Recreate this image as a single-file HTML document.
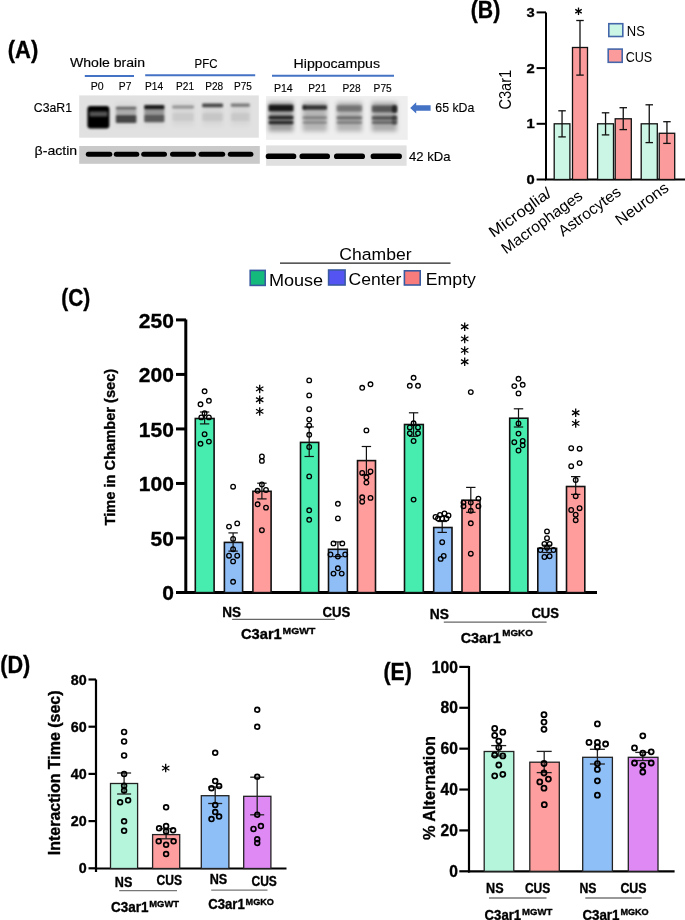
<!DOCTYPE html>
<html><head><meta charset="utf-8"><style>
html,body{margin:0;padding:0;background:#fff;}
svg{display:block;will-change:transform;font-family:"Liberation Sans", sans-serif;}
</style></head><body>
<svg width="685" height="920" viewBox="0 0 685 920">
<rect width="685" height="920" fill="#fff"/>
<text x="7.8" y="57.6" font-size="23.6" font-weight="bold" textLength="30.5" lengthAdjust="spacingAndGlyphs" fill="#000" stroke="#000" stroke-width="0.35">(A)</text>
<text x="70" y="66.8" font-size="12" textLength="75" lengthAdjust="spacingAndGlyphs" fill="#000" stroke="#000" stroke-width="0.15">Whole brain</text>
<text x="194.5" y="68" font-size="13" textLength="22.9" lengthAdjust="spacingAndGlyphs" fill="#000" stroke="#000" stroke-width="0.15">PFC</text>
<text x="293.6" y="68.0" font-size="12" textLength="86.4" lengthAdjust="spacingAndGlyphs" fill="#000" stroke="#000" stroke-width="0.15">Hippocampus</text>
<line x1="84.8" y1="76" x2="134" y2="76" stroke="#4472C4" stroke-width="2"/>
<line x1="145.2" y1="75.2" x2="255.2" y2="75.2" stroke="#4472C4" stroke-width="2"/>
<line x1="272" y1="75.8" x2="394" y2="75.8" stroke="#4472C4" stroke-width="2"/>
<text x="90.8" y="89.6" font-size="11.2" textLength="12.9" lengthAdjust="spacingAndGlyphs" fill="#000" stroke="#000" stroke-width="0.15">P0</text>
<text x="118.8" y="89.6" font-size="11.2" textLength="12.6" lengthAdjust="spacingAndGlyphs" fill="#000" stroke="#000" stroke-width="0.15">P7</text>
<text x="145.0" y="89.6" font-size="11.2" textLength="18.1" lengthAdjust="spacingAndGlyphs" fill="#000" stroke="#000" stroke-width="0.15">P14</text>
<text x="176.1" y="89.6" font-size="11.2" textLength="17.9" lengthAdjust="spacingAndGlyphs" fill="#000" stroke="#000" stroke-width="0.15">P21</text>
<text x="205.2" y="89.6" font-size="11.2" textLength="18.0" lengthAdjust="spacingAndGlyphs" fill="#000" stroke="#000" stroke-width="0.15">P28</text>
<text x="234.0" y="89.6" font-size="11.2" textLength="17.9" lengthAdjust="spacingAndGlyphs" fill="#000" stroke="#000" stroke-width="0.15">P75</text>
<text x="273.9" y="91.8" font-size="11.2" textLength="18.8" lengthAdjust="spacingAndGlyphs" fill="#000" stroke="#000" stroke-width="0.15">P14</text>
<text x="308.3" y="91.8" font-size="11.2" textLength="18.1" lengthAdjust="spacingAndGlyphs" fill="#000" stroke="#000" stroke-width="0.15">P21</text>
<text x="342.5" y="91.8" font-size="11.2" textLength="18.1" lengthAdjust="spacingAndGlyphs" fill="#000" stroke="#000" stroke-width="0.15">P28</text>
<text x="373.59999999999997" y="91.8" font-size="11.2" textLength="18.1" lengthAdjust="spacingAndGlyphs" fill="#000" stroke="#000" stroke-width="0.15">P75</text>
<text x="33.8" y="112.4" font-size="13" textLength="38.2" lengthAdjust="spacingAndGlyphs" fill="#000" stroke="#000" stroke-width="0.15">C3aR1</text>
<text x="34.6" y="155.4" font-size="13" textLength="42.6" lengthAdjust="spacingAndGlyphs" fill="#000" stroke="#000" stroke-width="0.15">&#946;-actin</text>
<text x="435.3" y="112" font-size="13.6" textLength="39" lengthAdjust="spacingAndGlyphs" fill="#000" stroke="#000" stroke-width="0.15">65 kDa</text>
<text x="409" y="161" font-size="13.6" textLength="41.5" lengthAdjust="spacingAndGlyphs" fill="#000" stroke="#000" stroke-width="0.15">42 kDa</text>
<path d="M410.2 107.9 L416.2 102.3 L416.2 105.2 L430.6 105.2 L430.6 110.8 L416.2 110.8 L416.2 113.4 Z" fill="#4472C4"/>
<defs><filter id="b1" x="-30%" y="-100%" width="160%" height="300%"><feGaussianBlur stdDeviation="1.2"/></filter><filter id="b2" x="-30%" y="-100%" width="160%" height="300%"><feGaussianBlur stdDeviation="0.8"/></filter><filter id="b3" x="-30%" y="-50%" width="160%" height="200%"><feGaussianBlur stdDeviation="2"/></filter></defs>
<rect x="79.2" y="95.4" width="179.6" height="42.3" fill="#e1e1e1"/>
<rect x="79.2" y="146" width="180.6" height="17.8" fill="#c9c9c9"/>
<rect x="266.1" y="96.1" width="141.6" height="43.7" fill="#eeeeee"/>
<rect x="266.1" y="145.4" width="140.5" height="20.4" fill="#e0e0e0"/>
<rect x="87.4" y="106" width="22.0" height="22.6" rx="3" fill="#000" fill-opacity="1.0" filter="url(#b1)"/>
<rect x="89.5" y="111.5" width="18.0" height="5.0" rx="1" fill="#fff" fill-opacity="0.33" filter="url(#b1)"/>
<rect x="115.8" y="103" width="20.6" height="23" rx="1" fill="#000" fill-opacity="0.045" filter="url(#b3)"/>
<rect x="115.8" y="106.8" width="20.6" height="2.6" rx="1" fill="#000" fill-opacity="0.55" filter="url(#b1)"/>
<rect x="115.8" y="109.4" width="20.6" height="5.6" rx="1" fill="#000" fill-opacity="0.2" filter="url(#b1)"/>
<rect x="115.8" y="115" width="20.6" height="8" rx="1" fill="#000" fill-opacity="0.68" filter="url(#b1)"/>
<rect x="144.2" y="103" width="20.2" height="23" rx="1" fill="#000" fill-opacity="0.045" filter="url(#b3)"/>
<rect x="144.2" y="105" width="20.2" height="4.4" rx="1" fill="#000" fill-opacity="0.88" filter="url(#b1)"/>
<rect x="144.2" y="109.4" width="20.2" height="5.0" rx="1" fill="#000" fill-opacity="0.3" filter="url(#b1)"/>
<rect x="144.2" y="114.4" width="20.2" height="7.8" rx="1" fill="#000" fill-opacity="0.58" filter="url(#b1)"/>
<rect x="172.2" y="103" width="21.8" height="23" rx="1" fill="#000" fill-opacity="0.045" filter="url(#b3)"/>
<rect x="172.2" y="105.6" width="21.8" height="2.8" rx="1" fill="#000" fill-opacity="0.32" filter="url(#b1)"/>
<rect x="172.2" y="113" width="21.8" height="8" rx="1" fill="#000" fill-opacity="0.06" filter="url(#b1)"/>
<rect x="202.2" y="103" width="20.8" height="23" rx="1" fill="#000" fill-opacity="0.045" filter="url(#b3)"/>
<rect x="202.2" y="103.4" width="20.8" height="3.8" rx="1" fill="#000" fill-opacity="0.68" filter="url(#b1)"/>
<rect x="202.2" y="113" width="20.8" height="8" rx="1" fill="#000" fill-opacity="0.08" filter="url(#b1)"/>
<rect x="230.8" y="103" width="19.0" height="23" rx="1" fill="#000" fill-opacity="0.045" filter="url(#b3)"/>
<rect x="230.8" y="103.6" width="19.0" height="3.2" rx="1" fill="#000" fill-opacity="0.45" filter="url(#b1)"/>
<rect x="230.8" y="113" width="19.0" height="8" rx="1" fill="#000" fill-opacity="0.07" filter="url(#b1)"/>
<rect x="268.6" y="102" width="24.8" height="29.5" rx="1" fill="#000" fill-opacity="0.33" filter="url(#b3)"/>
<rect x="268.6" y="104.8" width="24.8" height="6.5" rx="1" fill="#000" fill-opacity="0.85" filter="url(#b1)"/>
<rect x="268.6" y="115.8" width="24.8" height="3.8" rx="1" fill="#000" fill-opacity="0.78" filter="url(#b1)"/>
<rect x="268.6" y="120.8" width="24.8" height="3.4" rx="1" fill="#000" fill-opacity="0.76" filter="url(#b1)"/>
<rect x="302.6" y="102" width="24.4" height="29.5" rx="1" fill="#000" fill-opacity="0.24" filter="url(#b3)"/>
<rect x="302.6" y="105.2" width="24.4" height="4.6" rx="1" fill="#000" fill-opacity="0.72" filter="url(#b1)"/>
<rect x="302.6" y="116.2" width="24.4" height="3.0" rx="1" fill="#000" fill-opacity="0.3" filter="url(#b1)"/>
<rect x="302.6" y="121.3" width="24.4" height="2.5" rx="1" fill="#000" fill-opacity="0.28" filter="url(#b1)"/>
<rect x="336.6" y="102" width="25.5" height="29.5" rx="1" fill="#000" fill-opacity="0.24" filter="url(#b3)"/>
<rect x="336.6" y="105.2" width="25.5" height="6.4" rx="1" fill="#000" fill-opacity="0.36" filter="url(#b1)"/>
<rect x="336.6" y="116.2" width="25.5" height="3.4" rx="1" fill="#000" fill-opacity="0.42" filter="url(#b1)"/>
<rect x="336.6" y="121" width="25.5" height="3" rx="1" fill="#000" fill-opacity="0.3" filter="url(#b1)"/>
<rect x="371.8" y="102" width="25.0" height="29.5" rx="1" fill="#000" fill-opacity="0.28" filter="url(#b3)"/>
<rect x="371.8" y="105.6" width="25.0" height="6.6" rx="1" fill="#000" fill-opacity="0.5" filter="url(#b1)"/>
<rect x="371.8" y="116" width="25.0" height="4" rx="1" fill="#000" fill-opacity="0.5" filter="url(#b1)"/>
<rect x="371.8" y="121" width="25.0" height="3" rx="1" fill="#000" fill-opacity="0.42" filter="url(#b1)"/>
<rect x="392" y="105" width="5.2" height="8" rx="2.5" fill="#000" fill-opacity="0.6" filter="url(#b1)"/>
<rect x="392" y="115" width="5.2" height="10" rx="2.5" fill="#000" fill-opacity="0.35" filter="url(#b1)"/>
<rect x="302.6" y="104.5" width="3.4" height="5.5" rx="2.5" fill="#000" fill-opacity="0.3" filter="url(#b1)"/>
<defs><filter id="b4" x="-10%" y="-60%" width="120%" height="220%"><feGaussianBlur stdDeviation="0.55"/></filter></defs>
<rect x="85.8" y="151.7" width="26.5" height="5.1" rx="2.5" fill="#000" filter="url(#b4)"/>
<rect x="113.8" y="151.7" width="25.5" height="5.1" rx="2.5" fill="#000" filter="url(#b4)"/>
<rect x="141.2" y="151.7" width="25.8" height="5.1" rx="2.5" fill="#000" filter="url(#b4)"/>
<rect x="170" y="151.7" width="26.1" height="5.1" rx="2.5" fill="#000" filter="url(#b4)"/>
<rect x="198.5" y="151.7" width="26.7" height="5.1" rx="2.5" fill="#000" filter="url(#b4)"/>
<rect x="227.8" y="151.7" width="25.6" height="5.1" rx="2.5" fill="#000" filter="url(#b4)"/>
<rect x="265.7" y="153.6" width="30.6" height="5.5" rx="2.7" fill="#000" filter="url(#b4)"/>
<rect x="299.5" y="153.6" width="30.5" height="5.5" rx="2.7" fill="#000" filter="url(#b4)"/>
<rect x="334" y="153.6" width="31" height="5.5" rx="2.7" fill="#000" filter="url(#b4)"/>
<rect x="370.6" y="153.6" width="31.3" height="5.5" rx="2.7" fill="#000" filter="url(#b4)"/>
<text x="470.8" y="18.4" font-size="23.6" font-weight="bold" textLength="29.5" lengthAdjust="spacingAndGlyphs" fill="#000" stroke="#000" stroke-width="0.35">(B)</text>
<line x1="546" y1="12.4" x2="546" y2="180" stroke="#000" stroke-width="2"/>
<line x1="545" y1="179.5" x2="685" y2="179.5" stroke="#000" stroke-width="2"/>
<line x1="536.6" y1="179.5" x2="546" y2="179.5" stroke="#000" stroke-width="2"/>
<text x="526.6" y="184.1" font-size="12.6" font-weight="bold" textLength="8.2" lengthAdjust="spacingAndGlyphs" fill="#000" stroke="#000" stroke-width="0.35">0</text>
<line x1="536.6" y1="123.8" x2="546" y2="123.8" stroke="#000" stroke-width="2"/>
<text x="526.6" y="128.4" font-size="12.6" font-weight="bold" textLength="8.2" lengthAdjust="spacingAndGlyphs" fill="#000" stroke="#000" stroke-width="0.35">1</text>
<line x1="536.6" y1="68.1" x2="546" y2="68.1" stroke="#000" stroke-width="2"/>
<text x="526.6" y="72.7" font-size="12.6" font-weight="bold" textLength="8.2" lengthAdjust="spacingAndGlyphs" fill="#000" stroke="#000" stroke-width="0.35">2</text>
<line x1="536.6" y1="12.399999999999977" x2="546" y2="12.399999999999977" stroke="#000" stroke-width="2"/>
<text x="526.6" y="17.0" font-size="12.6" font-weight="bold" textLength="8.2" lengthAdjust="spacingAndGlyphs" fill="#000" stroke="#000" stroke-width="0.35">3</text>
<text transform="translate(510.6,109.6) rotate(-90)" font-size="16" textLength="39.7" lengthAdjust="spacingAndGlyphs" fill="#000">C3ar1</text>
<rect x="554.2" y="123.8" width="15.7" height="55.7" fill="#cbf5e4" stroke="#111" stroke-width="1.3"/>
<rect x="572.5" y="47.49" width="15.0" height="132.01" fill="#fb9b9b" stroke="#111" stroke-width="1.3"/>
<rect x="597.6" y="123.8" width="15.9" height="55.7" fill="#cbf5e4" stroke="#111" stroke-width="1.3"/>
<rect x="615.2" y="118.79" width="16.1" height="60.71" fill="#fb9b9b" stroke="#111" stroke-width="1.3"/>
<rect x="641.2" y="123.8" width="16.1" height="55.7" fill="#cbf5e4" stroke="#111" stroke-width="1.3"/>
<rect x="659.2" y="133.27" width="15.5" height="46.23" fill="#fb9b9b" stroke="#111" stroke-width="1.3"/>
<line x1="562.05" y1="110.8" x2="562.05" y2="136.9" stroke="#111" stroke-width="1.3"/>
<line x1="558.3" y1="110.8" x2="565.8" y2="110.8" stroke="#111" stroke-width="1.3"/>
<line x1="558.3" y1="136.9" x2="565.8" y2="136.9" stroke="#111" stroke-width="1.3"/>
<line x1="580.0" y1="20.5" x2="580.0" y2="75.1" stroke="#111" stroke-width="1.3"/>
<line x1="576.25" y1="20.5" x2="583.75" y2="20.5" stroke="#111" stroke-width="1.3"/>
<line x1="576.25" y1="75.1" x2="583.75" y2="75.1" stroke="#111" stroke-width="1.3"/>
<line x1="605.55" y1="112.8" x2="605.55" y2="134.9" stroke="#111" stroke-width="1.3"/>
<line x1="601.8" y1="112.8" x2="609.3" y2="112.8" stroke="#111" stroke-width="1.3"/>
<line x1="601.8" y1="134.9" x2="609.3" y2="134.9" stroke="#111" stroke-width="1.3"/>
<line x1="623.25" y1="107.7" x2="623.25" y2="129.6" stroke="#111" stroke-width="1.3"/>
<line x1="619.5" y1="107.7" x2="627.0" y2="107.7" stroke="#111" stroke-width="1.3"/>
<line x1="619.5" y1="129.6" x2="627.0" y2="129.6" stroke="#111" stroke-width="1.3"/>
<line x1="649.25" y1="104.8" x2="649.25" y2="142.6" stroke="#111" stroke-width="1.3"/>
<line x1="645.5" y1="104.8" x2="653.0" y2="104.8" stroke="#111" stroke-width="1.3"/>
<line x1="645.5" y1="142.6" x2="653.0" y2="142.6" stroke="#111" stroke-width="1.3"/>
<line x1="666.95" y1="121.7" x2="666.95" y2="143.4" stroke="#111" stroke-width="1.3"/>
<line x1="663.2" y1="121.7" x2="670.7" y2="121.7" stroke="#111" stroke-width="1.3"/>
<line x1="663.2" y1="143.4" x2="670.7" y2="143.4" stroke="#111" stroke-width="1.3"/>
<line x1="578.5" y1="7.55" x2="578.5" y2="15.05" stroke="#000" stroke-width="1.3"/>
<line x1="575.25" y1="9.43" x2="581.75" y2="13.18" stroke="#000" stroke-width="1.3"/>
<line x1="575.25" y1="13.18" x2="581.75" y2="9.43" stroke="#000" stroke-width="1.3"/>
<rect x="608.8" y="23.7" width="14" height="12.8" fill="#cbf5e4" stroke="#4466aa" stroke-width="1.6"/>
<text x="626.8" y="36" font-size="14.5" textLength="18" lengthAdjust="spacingAndGlyphs" fill="#000">NS</text>
<rect x="608.2" y="49.1" width="14" height="13.2" fill="#fb9b9b" stroke="#4466aa" stroke-width="1.6"/>
<text x="625.7" y="61.8" font-size="14.5" textLength="26.5" lengthAdjust="spacingAndGlyphs" fill="#000">CUS</text>
<text transform="translate(493.6,238) rotate(-36)" font-size="15.5" textLength="73" lengthAdjust="spacingAndGlyphs" fill="#000">Microglia/</text>
<text transform="translate(506.1,254.4) rotate(-36)" font-size="15.5" textLength="96" lengthAdjust="spacingAndGlyphs" fill="#000">Macrophages</text>
<text transform="translate(563,237) rotate(-36)" font-size="15.5" textLength="73" lengthAdjust="spacingAndGlyphs" fill="#000">Astrocytes</text>
<text transform="translate(620,226) rotate(-36)" font-size="15.5" textLength="61.5" lengthAdjust="spacingAndGlyphs" fill="#000">Neurons</text>
<text x="61.3" y="306.4" font-size="23.6" font-weight="bold" textLength="29" lengthAdjust="spacingAndGlyphs" fill="#000" stroke="#000" stroke-width="0.35">(C)</text>
<text x="339.3" y="259.7" font-size="17.2" textLength="72.3" lengthAdjust="spacingAndGlyphs" fill="#000">Chamber</text>
<line x1="280" y1="263.2" x2="450.5" y2="263.2" stroke="#222" stroke-width="1.2"/>
<rect x="250.2" y="270.4" width="15" height="15" fill="#14b97c" stroke="#3a5aa0" stroke-width="1.6"/>
<text x="268.9" y="285.5" font-size="17.2" textLength="54.3" lengthAdjust="spacingAndGlyphs" fill="#000">Mouse</text>
<rect x="328.6" y="270" width="16.5" height="15" fill="#5454f2" stroke="#3a5aa0" stroke-width="1.6"/>
<text x="348.6" y="285.3" font-size="17.2" textLength="52.7" lengthAdjust="spacingAndGlyphs" fill="#000">Center</text>
<rect x="404.4" y="270.8" width="15.8" height="14.2" fill="#f87c7c" stroke="#3a5aa0" stroke-width="1.6"/>
<text x="425.8" y="285" font-size="17.2" textLength="50.1" lengthAdjust="spacingAndGlyphs" fill="#000">Empty</text>
<line x1="185.8" y1="319.5" x2="185.8" y2="594" stroke="#000" stroke-width="3"/>
<line x1="184.3" y1="592.6" x2="597" y2="592.6" stroke="#000" stroke-width="3"/>
<line x1="176" y1="592.5" x2="186" y2="592.5" stroke="#000" stroke-width="3"/>
<text x="173.9" y="600.1" font-size="21" font-weight="bold" text-anchor="end" fill="#000" stroke="#000" stroke-width="0.35">0</text>
<line x1="176" y1="537.98" x2="186" y2="537.98" stroke="#000" stroke-width="3"/>
<text x="173.9" y="545.6" font-size="21" font-weight="bold" text-anchor="end" fill="#000" stroke="#000" stroke-width="0.35">50</text>
<line x1="176" y1="483.46" x2="186" y2="483.46" stroke="#000" stroke-width="3"/>
<text x="173.9" y="491.1" font-size="21" font-weight="bold" text-anchor="end" fill="#000" stroke="#000" stroke-width="0.35">100</text>
<line x1="176" y1="428.94" x2="186" y2="428.94" stroke="#000" stroke-width="3"/>
<text x="173.9" y="436.5" font-size="21" font-weight="bold" text-anchor="end" fill="#000" stroke="#000" stroke-width="0.35">150</text>
<line x1="176" y1="374.42" x2="186" y2="374.42" stroke="#000" stroke-width="3"/>
<text x="173.9" y="382.0" font-size="21" font-weight="bold" text-anchor="end" fill="#000" stroke="#000" stroke-width="0.35">200</text>
<line x1="176" y1="319.9" x2="186" y2="319.9" stroke="#000" stroke-width="3"/>
<text x="173.9" y="327.5" font-size="21" font-weight="bold" text-anchor="end" fill="#000" stroke="#000" stroke-width="0.35">250</text>
<text transform="translate(115.2,525.4) rotate(-90)" font-size="15.2" font-weight="bold" textLength="156.6" lengthAdjust="spacingAndGlyphs" fill="#000" stroke="#000" stroke-width="0.35">Time in Chamber (sec)</text>
<rect x="195.3" y="418.5" width="18.8" height="174.1" fill="#47edaf" stroke="#111" stroke-width="1.6"/>
<rect x="224.4" y="542.4" width="18.2" height="50.2" fill="#8fbef7" stroke="#111" stroke-width="1.6"/>
<rect x="252.9" y="491.3" width="18.2" height="101.3" fill="#ff9c9c" stroke="#111" stroke-width="1.6"/>
<rect x="300.5" y="442.4" width="18.2" height="150.2" fill="#47edaf" stroke="#111" stroke-width="1.6"/>
<rect x="328.5" y="549.3" width="18.8" height="43.3" fill="#8fbef7" stroke="#111" stroke-width="1.6"/>
<rect x="357.5" y="460.6" width="18.0" height="132.0" fill="#ff9c9c" stroke="#111" stroke-width="1.6"/>
<rect x="404.5" y="424.5" width="18.8" height="168.1" fill="#47edaf" stroke="#111" stroke-width="1.6"/>
<rect x="433.7" y="527.5" width="18.3" height="65.1" fill="#8fbef7" stroke="#111" stroke-width="1.6"/>
<rect x="462.0" y="500.2" width="18.0" height="92.4" fill="#ff9c9c" stroke="#111" stroke-width="1.6"/>
<rect x="509.7" y="418.2" width="18.2" height="174.4" fill="#47edaf" stroke="#111" stroke-width="1.6"/>
<rect x="537.8" y="548.4" width="18.8" height="44.2" fill="#8fbef7" stroke="#111" stroke-width="1.6"/>
<rect x="566.5" y="486.5" width="18.3" height="106.1" fill="#ff9c9c" stroke="#111" stroke-width="1.6"/>
<line x1="204.6" y1="412" x2="204.6" y2="423.9" stroke="#111" stroke-width="1.2"/>
<line x1="199.9" y1="412" x2="209.29999999999998" y2="412" stroke="#111" stroke-width="1.2"/>
<line x1="199.9" y1="423.9" x2="209.29999999999998" y2="423.9" stroke="#111" stroke-width="1.2"/>
<circle cx="204.6" cy="391.3" r="2.3" fill="none" stroke="#000" stroke-width="1.3"/>
<circle cx="208.9" cy="400.8" r="2.3" fill="none" stroke="#000" stroke-width="1.3"/>
<circle cx="200.5" cy="404.3" r="2.3" fill="none" stroke="#000" stroke-width="1.3"/>
<circle cx="204.6" cy="413.3" r="2.3" fill="none" stroke="#000" stroke-width="1.3"/>
<circle cx="201.3" cy="417.4" r="2.3" fill="none" stroke="#000" stroke-width="1.3"/>
<circle cx="208.9" cy="417.4" r="2.3" fill="none" stroke="#000" stroke-width="1.3"/>
<circle cx="204.6" cy="434.2" r="2.3" fill="none" stroke="#000" stroke-width="1.3"/>
<circle cx="200.5" cy="443.8" r="2.3" fill="none" stroke="#000" stroke-width="1.3"/>
<circle cx="208.9" cy="441.6" r="2.3" fill="none" stroke="#000" stroke-width="1.3"/>
<line x1="233.1" y1="532.9" x2="233.1" y2="551.1" stroke="#111" stroke-width="1.2"/>
<line x1="228.4" y1="532.9" x2="237.79999999999998" y2="532.9" stroke="#111" stroke-width="1.2"/>
<line x1="228.4" y1="551.1" x2="237.79999999999998" y2="551.1" stroke="#111" stroke-width="1.2"/>
<circle cx="233.1" cy="486.7" r="2.3" fill="none" stroke="#000" stroke-width="1.3"/>
<circle cx="229" cy="526.6" r="2.3" fill="none" stroke="#000" stroke-width="1.3"/>
<circle cx="237.2" cy="523.4" r="2.3" fill="none" stroke="#000" stroke-width="1.3"/>
<circle cx="233.1" cy="538.9" r="2.3" fill="none" stroke="#000" stroke-width="1.3"/>
<circle cx="233.1" cy="549.2" r="2.3" fill="none" stroke="#000" stroke-width="1.3"/>
<circle cx="229" cy="555.7" r="2.3" fill="none" stroke="#000" stroke-width="1.3"/>
<circle cx="237.2" cy="555.7" r="2.3" fill="none" stroke="#000" stroke-width="1.3"/>
<circle cx="233.1" cy="561.4" r="2.3" fill="none" stroke="#000" stroke-width="1.3"/>
<circle cx="233.1" cy="581.8" r="2.3" fill="none" stroke="#000" stroke-width="1.3"/>
<line x1="261.9" y1="483.2" x2="261.9" y2="498.9" stroke="#111" stroke-width="1.2"/>
<line x1="257.2" y1="483.2" x2="266.59999999999997" y2="483.2" stroke="#111" stroke-width="1.2"/>
<line x1="257.2" y1="498.9" x2="266.59999999999997" y2="498.9" stroke="#111" stroke-width="1.2"/>
<circle cx="261.9" cy="456.5" r="2.3" fill="none" stroke="#000" stroke-width="1.3"/>
<circle cx="261.9" cy="460.9" r="2.3" fill="none" stroke="#000" stroke-width="1.3"/>
<circle cx="261.9" cy="484.5" r="2.3" fill="none" stroke="#000" stroke-width="1.3"/>
<circle cx="257.6" cy="490.8" r="2.3" fill="none" stroke="#000" stroke-width="1.3"/>
<circle cx="266" cy="490" r="2.3" fill="none" stroke="#000" stroke-width="1.3"/>
<circle cx="257.6" cy="504.3" r="2.3" fill="none" stroke="#000" stroke-width="1.3"/>
<circle cx="266" cy="507.6" r="2.3" fill="none" stroke="#000" stroke-width="1.3"/>
<circle cx="261.9" cy="530.2" r="2.3" fill="none" stroke="#000" stroke-width="1.3"/>
<line x1="309.2" y1="426.9" x2="309.2" y2="456.5" stroke="#111" stroke-width="1.2"/>
<line x1="304.5" y1="426.9" x2="313.9" y2="426.9" stroke="#111" stroke-width="1.2"/>
<line x1="304.5" y1="456.5" x2="313.9" y2="456.5" stroke="#111" stroke-width="1.2"/>
<circle cx="309.2" cy="380.4" r="2.3" fill="none" stroke="#000" stroke-width="1.3"/>
<circle cx="309.2" cy="395.4" r="2.3" fill="none" stroke="#000" stroke-width="1.3"/>
<circle cx="309.2" cy="409.2" r="2.3" fill="none" stroke="#000" stroke-width="1.3"/>
<circle cx="309.2" cy="419.6" r="2.3" fill="none" stroke="#000" stroke-width="1.3"/>
<circle cx="309.2" cy="425.5" r="2.3" fill="none" stroke="#000" stroke-width="1.3"/>
<circle cx="309.2" cy="434.8" r="2.3" fill="none" stroke="#000" stroke-width="1.3"/>
<circle cx="309.2" cy="447" r="2.3" fill="none" stroke="#000" stroke-width="1.3"/>
<circle cx="309.2" cy="476.4" r="2.3" fill="none" stroke="#000" stroke-width="1.3"/>
<circle cx="309.2" cy="510.3" r="2.3" fill="none" stroke="#000" stroke-width="1.3"/>
<circle cx="309.2" cy="519.8" r="2.3" fill="none" stroke="#000" stroke-width="1.3"/>
<line x1="337.9" y1="541.9" x2="337.9" y2="556.6" stroke="#111" stroke-width="1.2"/>
<line x1="333.2" y1="541.9" x2="342.59999999999997" y2="541.9" stroke="#111" stroke-width="1.2"/>
<line x1="333.2" y1="556.6" x2="342.59999999999997" y2="556.6" stroke="#111" stroke-width="1.2"/>
<circle cx="337.9" cy="503.8" r="2.3" fill="none" stroke="#000" stroke-width="1.3"/>
<circle cx="337.9" cy="518.4" r="2.3" fill="none" stroke="#000" stroke-width="1.3"/>
<circle cx="333.5" cy="543.4" r="2.3" fill="none" stroke="#000" stroke-width="1.3"/>
<circle cx="342.3" cy="543.4" r="2.3" fill="none" stroke="#000" stroke-width="1.3"/>
<circle cx="330.5" cy="554.5" r="2.3" fill="none" stroke="#000" stroke-width="1.3"/>
<circle cx="337.9" cy="556.6" r="2.3" fill="none" stroke="#000" stroke-width="1.3"/>
<circle cx="345.2" cy="554.5" r="2.3" fill="none" stroke="#000" stroke-width="1.3"/>
<circle cx="337.9" cy="568.3" r="2.3" fill="none" stroke="#000" stroke-width="1.3"/>
<circle cx="333.5" cy="573.6" r="2.3" fill="none" stroke="#000" stroke-width="1.3"/>
<circle cx="341.7" cy="573.6" r="2.3" fill="none" stroke="#000" stroke-width="1.3"/>
<line x1="366.4" y1="446.5" x2="366.4" y2="474.5" stroke="#111" stroke-width="1.2"/>
<line x1="361.7" y1="446.5" x2="371.09999999999997" y2="446.5" stroke="#111" stroke-width="1.2"/>
<line x1="361.7" y1="474.5" x2="371.09999999999997" y2="474.5" stroke="#111" stroke-width="1.2"/>
<circle cx="362.2" cy="387.8" r="2.3" fill="none" stroke="#000" stroke-width="1.3"/>
<circle cx="370.5" cy="384.3" r="2.3" fill="none" stroke="#000" stroke-width="1.3"/>
<circle cx="366.4" cy="430.4" r="2.3" fill="none" stroke="#000" stroke-width="1.3"/>
<circle cx="362.2" cy="473" r="2.3" fill="none" stroke="#000" stroke-width="1.3"/>
<circle cx="370.5" cy="471.5" r="2.3" fill="none" stroke="#000" stroke-width="1.3"/>
<circle cx="366.4" cy="477.3" r="2.3" fill="none" stroke="#000" stroke-width="1.3"/>
<circle cx="366.4" cy="482.6" r="2.3" fill="none" stroke="#000" stroke-width="1.3"/>
<circle cx="362.2" cy="497.3" r="2.3" fill="none" stroke="#000" stroke-width="1.3"/>
<circle cx="370.5" cy="497.9" r="2.3" fill="none" stroke="#000" stroke-width="1.3"/>
<circle cx="362.2" cy="501.7" r="2.3" fill="none" stroke="#000" stroke-width="1.3"/>
<line x1="413.6" y1="412.8" x2="413.6" y2="436.3" stroke="#111" stroke-width="1.2"/>
<line x1="408.90000000000003" y1="412.8" x2="418.3" y2="412.8" stroke="#111" stroke-width="1.2"/>
<line x1="408.90000000000003" y1="436.3" x2="418.3" y2="436.3" stroke="#111" stroke-width="1.2"/>
<circle cx="413.6" cy="377.8" r="2.3" fill="none" stroke="#000" stroke-width="1.3"/>
<circle cx="409.8" cy="385.8" r="2.3" fill="none" stroke="#000" stroke-width="1.3"/>
<circle cx="418" cy="385.8" r="2.3" fill="none" stroke="#000" stroke-width="1.3"/>
<circle cx="413.6" cy="423.3" r="2.3" fill="none" stroke="#000" stroke-width="1.3"/>
<circle cx="409.8" cy="427.4" r="2.3" fill="none" stroke="#000" stroke-width="1.3"/>
<circle cx="418" cy="427.4" r="2.3" fill="none" stroke="#000" stroke-width="1.3"/>
<circle cx="409.8" cy="433.3" r="2.3" fill="none" stroke="#000" stroke-width="1.3"/>
<circle cx="418" cy="433.3" r="2.3" fill="none" stroke="#000" stroke-width="1.3"/>
<circle cx="413.6" cy="441" r="2.3" fill="none" stroke="#000" stroke-width="1.3"/>
<circle cx="413.6" cy="499.6" r="2.3" fill="none" stroke="#000" stroke-width="1.3"/>
<line x1="442.2" y1="521.5" x2="442.2" y2="532.4" stroke="#111" stroke-width="1.2"/>
<line x1="437.5" y1="521.5" x2="446.9" y2="521.5" stroke="#111" stroke-width="1.2"/>
<line x1="437.5" y1="532.4" x2="446.9" y2="532.4" stroke="#111" stroke-width="1.2"/>
<circle cx="435.5" cy="517" r="2.3" fill="none" stroke="#000" stroke-width="1.3"/>
<circle cx="440" cy="515" r="2.3" fill="none" stroke="#000" stroke-width="1.3"/>
<circle cx="444.5" cy="513.5" r="2.3" fill="none" stroke="#000" stroke-width="1.3"/>
<circle cx="448.5" cy="515.5" r="2.3" fill="none" stroke="#000" stroke-width="1.3"/>
<circle cx="442.2" cy="518.5" r="2.3" fill="none" stroke="#000" stroke-width="1.3"/>
<circle cx="438" cy="518.5" r="2.3" fill="none" stroke="#000" stroke-width="1.3"/>
<circle cx="446.5" cy="518.5" r="2.3" fill="none" stroke="#000" stroke-width="1.3"/>
<circle cx="442.2" cy="542.2" r="2.3" fill="none" stroke="#000" stroke-width="1.3"/>
<circle cx="440.7" cy="558.9" r="2.3" fill="none" stroke="#000" stroke-width="1.3"/>
<circle cx="443.7" cy="555.9" r="2.3" fill="none" stroke="#000" stroke-width="1.3"/>
<line x1="470.8" y1="487.4" x2="470.8" y2="512.3" stroke="#111" stroke-width="1.2"/>
<line x1="466.1" y1="487.4" x2="475.5" y2="487.4" stroke="#111" stroke-width="1.2"/>
<line x1="466.1" y1="512.3" x2="475.5" y2="512.3" stroke="#111" stroke-width="1.2"/>
<circle cx="470.8" cy="392.1" r="2.3" fill="none" stroke="#000" stroke-width="1.3"/>
<circle cx="463.5" cy="502.6" r="2.3" fill="none" stroke="#000" stroke-width="1.3"/>
<circle cx="470.8" cy="502.6" r="2.3" fill="none" stroke="#000" stroke-width="1.3"/>
<circle cx="478.4" cy="498.6" r="2.3" fill="none" stroke="#000" stroke-width="1.3"/>
<circle cx="463.5" cy="506.2" r="2.3" fill="none" stroke="#000" stroke-width="1.3"/>
<circle cx="478.4" cy="506.2" r="2.3" fill="none" stroke="#000" stroke-width="1.3"/>
<circle cx="470.8" cy="510.8" r="2.3" fill="none" stroke="#000" stroke-width="1.3"/>
<circle cx="470.8" cy="523.3" r="2.3" fill="none" stroke="#000" stroke-width="1.3"/>
<circle cx="470.8" cy="553.7" r="2.3" fill="none" stroke="#000" stroke-width="1.3"/>
<line x1="518.5" y1="408.8" x2="518.5" y2="427" stroke="#111" stroke-width="1.2"/>
<line x1="513.8" y1="408.8" x2="523.2" y2="408.8" stroke="#111" stroke-width="1.2"/>
<line x1="513.8" y1="427" x2="523.2" y2="427" stroke="#111" stroke-width="1.2"/>
<circle cx="518.5" cy="378.8" r="2.3" fill="none" stroke="#000" stroke-width="1.3"/>
<circle cx="514.3" cy="386.1" r="2.3" fill="none" stroke="#000" stroke-width="1.3"/>
<circle cx="522.7" cy="384.8" r="2.3" fill="none" stroke="#000" stroke-width="1.3"/>
<circle cx="518.5" cy="393.4" r="2.3" fill="none" stroke="#000" stroke-width="1.3"/>
<circle cx="518.5" cy="423.4" r="2.3" fill="none" stroke="#000" stroke-width="1.3"/>
<circle cx="518.5" cy="433.6" r="2.3" fill="none" stroke="#000" stroke-width="1.3"/>
<circle cx="514.3" cy="442.2" r="2.3" fill="none" stroke="#000" stroke-width="1.3"/>
<circle cx="522.7" cy="440.9" r="2.3" fill="none" stroke="#000" stroke-width="1.3"/>
<circle cx="522.7" cy="445.3" r="2.3" fill="none" stroke="#000" stroke-width="1.3"/>
<circle cx="518.5" cy="450.5" r="2.3" fill="none" stroke="#000" stroke-width="1.3"/>
<line x1="547.0" y1="545.2" x2="547.0" y2="552.5" stroke="#111" stroke-width="1.2"/>
<line x1="542.3" y1="545.2" x2="551.7" y2="545.2" stroke="#111" stroke-width="1.2"/>
<line x1="542.3" y1="552.5" x2="551.7" y2="552.5" stroke="#111" stroke-width="1.2"/>
<circle cx="547" cy="531.4" r="2.3" fill="none" stroke="#000" stroke-width="1.3"/>
<circle cx="547" cy="538.2" r="2.3" fill="none" stroke="#000" stroke-width="1.3"/>
<circle cx="544.4" cy="543.9" r="2.3" fill="none" stroke="#000" stroke-width="1.3"/>
<circle cx="549.6" cy="543.9" r="2.3" fill="none" stroke="#000" stroke-width="1.3"/>
<circle cx="540.4" cy="550" r="2.3" fill="none" stroke="#000" stroke-width="1.3"/>
<circle cx="547" cy="547.8" r="2.3" fill="none" stroke="#000" stroke-width="1.3"/>
<circle cx="553.5" cy="550" r="2.3" fill="none" stroke="#000" stroke-width="1.3"/>
<circle cx="544.4" cy="557" r="2.3" fill="none" stroke="#000" stroke-width="1.3"/>
<circle cx="549.6" cy="556.2" r="2.3" fill="none" stroke="#000" stroke-width="1.3"/>
<line x1="575.7" y1="476.6" x2="575.7" y2="494.4" stroke="#111" stroke-width="1.2"/>
<line x1="571.0" y1="476.6" x2="580.4000000000001" y2="476.6" stroke="#111" stroke-width="1.2"/>
<line x1="571.0" y1="494.4" x2="580.4000000000001" y2="494.4" stroke="#111" stroke-width="1.2"/>
<circle cx="571.2" cy="448.2" r="2.3" fill="none" stroke="#000" stroke-width="1.3"/>
<circle cx="579.6" cy="448.7" r="2.3" fill="none" stroke="#000" stroke-width="1.3"/>
<circle cx="571.2" cy="466.2" r="2.3" fill="none" stroke="#000" stroke-width="1.3"/>
<circle cx="579.6" cy="463.1" r="2.3" fill="none" stroke="#000" stroke-width="1.3"/>
<circle cx="575.7" cy="480" r="2.3" fill="none" stroke="#000" stroke-width="1.3"/>
<circle cx="575.7" cy="496.2" r="2.3" fill="none" stroke="#000" stroke-width="1.3"/>
<circle cx="571.2" cy="510" r="2.3" fill="none" stroke="#000" stroke-width="1.3"/>
<circle cx="579.6" cy="508.2" r="2.3" fill="none" stroke="#000" stroke-width="1.3"/>
<circle cx="575.7" cy="514.7" r="2.3" fill="none" stroke="#000" stroke-width="1.3"/>
<circle cx="575.7" cy="520.2" r="2.3" fill="none" stroke="#000" stroke-width="1.3"/>
<line x1="259.7" y1="384.65" x2="259.7" y2="393.15" stroke="#000" stroke-width="1.3"/>
<line x1="256.02" y1="386.77" x2="263.38" y2="391.02" stroke="#000" stroke-width="1.3"/>
<line x1="256.02" y1="391.02" x2="263.38" y2="386.77" stroke="#000" stroke-width="1.3"/>
<line x1="259.7" y1="395.45" x2="259.7" y2="403.95" stroke="#000" stroke-width="1.3"/>
<line x1="256.02" y1="397.57" x2="263.38" y2="401.82" stroke="#000" stroke-width="1.3"/>
<line x1="256.02" y1="401.82" x2="263.38" y2="397.57" stroke="#000" stroke-width="1.3"/>
<line x1="259.7" y1="407.15" x2="259.7" y2="415.65" stroke="#000" stroke-width="1.3"/>
<line x1="256.02" y1="409.27" x2="263.38" y2="413.52" stroke="#000" stroke-width="1.3"/>
<line x1="256.02" y1="413.52" x2="263.38" y2="409.27" stroke="#000" stroke-width="1.3"/>
<line x1="464.7" y1="322.45" x2="464.7" y2="330.95" stroke="#000" stroke-width="1.3"/>
<line x1="461.02" y1="324.57" x2="468.38" y2="328.82" stroke="#000" stroke-width="1.3"/>
<line x1="461.02" y1="328.82" x2="468.38" y2="324.57" stroke="#000" stroke-width="1.3"/>
<line x1="464.7" y1="334.65" x2="464.7" y2="343.15" stroke="#000" stroke-width="1.3"/>
<line x1="461.02" y1="336.77" x2="468.38" y2="341.02" stroke="#000" stroke-width="1.3"/>
<line x1="461.02" y1="341.02" x2="468.38" y2="336.77" stroke="#000" stroke-width="1.3"/>
<line x1="464.7" y1="346.15" x2="464.7" y2="354.65" stroke="#000" stroke-width="1.3"/>
<line x1="461.02" y1="348.27" x2="468.38" y2="352.52" stroke="#000" stroke-width="1.3"/>
<line x1="461.02" y1="352.52" x2="468.38" y2="348.27" stroke="#000" stroke-width="1.3"/>
<line x1="464.7" y1="357.45" x2="464.7" y2="365.95" stroke="#000" stroke-width="1.3"/>
<line x1="461.02" y1="359.57" x2="468.38" y2="363.82" stroke="#000" stroke-width="1.3"/>
<line x1="461.02" y1="363.82" x2="468.38" y2="359.57" stroke="#000" stroke-width="1.3"/>
<line x1="575.7" y1="408.45" x2="575.7" y2="416.95" stroke="#000" stroke-width="1.3"/>
<line x1="572.02" y1="410.57" x2="579.38" y2="414.82" stroke="#000" stroke-width="1.3"/>
<line x1="572.02" y1="414.82" x2="579.38" y2="410.57" stroke="#000" stroke-width="1.3"/>
<line x1="575.7" y1="419.15" x2="575.7" y2="427.65" stroke="#000" stroke-width="1.3"/>
<line x1="572.02" y1="421.27" x2="579.38" y2="425.52" stroke="#000" stroke-width="1.3"/>
<line x1="572.02" y1="425.52" x2="579.38" y2="421.27" stroke="#000" stroke-width="1.3"/>
<text x="222.2" y="616.9" font-size="15.2" font-weight="bold" textLength="18.8" lengthAdjust="spacingAndGlyphs" fill="#000" stroke="#000" stroke-width="0.35">NS</text>
<text x="322.6" y="616.6" font-size="15.2" font-weight="bold" textLength="27.8" lengthAdjust="spacingAndGlyphs" fill="#000" stroke="#000" stroke-width="0.35">CUS</text>
<line x1="232.1" y1="619.4" x2="334.9" y2="619.4" stroke="#666" stroke-width="1.3"/>
<text x="240.9" y="639" font-size="15" font-weight="bold" textLength="40.9" lengthAdjust="spacingAndGlyphs" fill="#000" stroke="#000" stroke-width="0.35">C3ar1</text>
<text x="282.6" y="633.8" font-size="9.5" font-weight="bold" textLength="32.7" lengthAdjust="spacingAndGlyphs" fill="#000" stroke="#000" stroke-width="0.35">MGWT</text>
<text x="429.8" y="619.4" font-size="15.2" font-weight="bold" textLength="19.2" lengthAdjust="spacingAndGlyphs" fill="#000" stroke="#000" stroke-width="0.35">NS</text>
<text x="531.4" y="618" font-size="15.2" font-weight="bold" textLength="27.7" lengthAdjust="spacingAndGlyphs" fill="#000" stroke="#000" stroke-width="0.35">CUS</text>
<line x1="443.8" y1="622.1" x2="546.6" y2="622.1" stroke="#666" stroke-width="1.3"/>
<text x="460.7" y="642.6" font-size="15" font-weight="bold" textLength="40" lengthAdjust="spacingAndGlyphs" fill="#000" stroke="#000" stroke-width="0.35">C3ar1</text>
<text x="502.2" y="636.2" font-size="9.5" font-weight="bold" textLength="30.6" lengthAdjust="spacingAndGlyphs" fill="#000" stroke="#000" stroke-width="0.35">MGKO</text>
<text x="0.3" y="672.6" font-size="23.6" font-weight="bold" textLength="30" lengthAdjust="spacingAndGlyphs" fill="#000" stroke="#000" stroke-width="0.35">(D)</text>
<line x1="96" y1="679.5" x2="96" y2="872" stroke="#000" stroke-width="2.2"/>
<line x1="95" y1="868.5" x2="286.5" y2="868.5" stroke="#000" stroke-width="2.2"/>
<line x1="88.5" y1="868.3" x2="96" y2="868.3" stroke="#000" stroke-width="2.2"/>
<text x="86.6" y="873.4" font-size="14.3" font-weight="bold" text-anchor="end" fill="#000" stroke="#000" stroke-width="0.35">0</text>
<line x1="88.5" y1="821.1" x2="96" y2="821.1" stroke="#000" stroke-width="2.2"/>
<text x="86.6" y="826.2" font-size="14.3" font-weight="bold" text-anchor="end" fill="#000" stroke="#000" stroke-width="0.35">20</text>
<line x1="88.5" y1="773.9" x2="96" y2="773.9" stroke="#000" stroke-width="2.2"/>
<text x="86.6" y="779.0" font-size="14.3" font-weight="bold" text-anchor="end" fill="#000" stroke="#000" stroke-width="0.35">40</text>
<line x1="88.5" y1="726.7" x2="96" y2="726.7" stroke="#000" stroke-width="2.2"/>
<text x="86.6" y="731.8" font-size="14.3" font-weight="bold" text-anchor="end" fill="#000" stroke="#000" stroke-width="0.35">60</text>
<line x1="88.5" y1="679.5" x2="96" y2="679.5" stroke="#000" stroke-width="2.2"/>
<text x="86.6" y="684.6" font-size="14.3" font-weight="bold" text-anchor="end" fill="#000" stroke="#000" stroke-width="0.35">80</text>
<text transform="translate(59.8,855.2) rotate(-90)" font-size="16" font-weight="bold" textLength="164.7" lengthAdjust="spacingAndGlyphs" fill="#000" stroke="#000" stroke-width="0.35">Interaction Time (sec)</text>
<rect x="110.5" y="783.5" width="27.1" height="85.0" fill="#b4f5dc" stroke="#222" stroke-width="1.3"/>
<rect x="152.6" y="834.6" width="27.1" height="33.9" fill="#ff9e9e" stroke="#222" stroke-width="1.3"/>
<rect x="201.3" y="795.7" width="27.6" height="72.8" fill="#8fbff7" stroke="#222" stroke-width="1.3"/>
<rect x="243.7" y="796.3" width="27.2" height="72.2" fill="#df89f5" stroke="#222" stroke-width="1.3"/>
<line x1="124.1" y1="773" x2="124.1" y2="794" stroke="#222" stroke-width="1.3"/>
<line x1="117.1" y1="773" x2="131.1" y2="773" stroke="#222" stroke-width="1.3"/>
<line x1="117.1" y1="794" x2="131.1" y2="794" stroke="#222" stroke-width="1.3"/>
<circle cx="124.1" cy="731.9" r="2.4" fill="none" stroke="#000" stroke-width="1.7"/>
<circle cx="124.1" cy="741.4" r="2.4" fill="none" stroke="#000" stroke-width="1.7"/>
<circle cx="124.1" cy="755.4" r="2.4" fill="none" stroke="#000" stroke-width="1.7"/>
<circle cx="124.1" cy="774.1" r="2.4" fill="none" stroke="#000" stroke-width="1.7"/>
<circle cx="124.1" cy="785.8" r="2.4" fill="none" stroke="#000" stroke-width="1.7"/>
<circle cx="124.1" cy="790.5" r="2.4" fill="none" stroke="#000" stroke-width="1.7"/>
<circle cx="120.1" cy="802.2" r="2.4" fill="none" stroke="#000" stroke-width="1.7"/>
<circle cx="128.1" cy="800.3" r="2.4" fill="none" stroke="#000" stroke-width="1.7"/>
<circle cx="124.1" cy="821.3" r="2.4" fill="none" stroke="#000" stroke-width="1.7"/>
<circle cx="124.1" cy="830.7" r="2.4" fill="none" stroke="#000" stroke-width="1.7"/>
<line x1="166.1" y1="828.8" x2="166.1" y2="838.8" stroke="#222" stroke-width="1.3"/>
<line x1="159.1" y1="828.8" x2="173.1" y2="828.8" stroke="#222" stroke-width="1.3"/>
<line x1="159.1" y1="838.8" x2="173.1" y2="838.8" stroke="#222" stroke-width="1.3"/>
<circle cx="166.1" cy="807.3" r="2.4" fill="none" stroke="#000" stroke-width="1.7"/>
<circle cx="159.1" cy="828.3" r="2.4" fill="none" stroke="#000" stroke-width="1.7"/>
<circle cx="166.1" cy="826" r="2.4" fill="none" stroke="#000" stroke-width="1.7"/>
<circle cx="173.1" cy="830.2" r="2.4" fill="none" stroke="#000" stroke-width="1.7"/>
<circle cx="166.1" cy="831.4" r="2.4" fill="none" stroke="#000" stroke-width="1.7"/>
<circle cx="158.7" cy="841.2" r="2.4" fill="none" stroke="#000" stroke-width="1.7"/>
<circle cx="166.1" cy="844.7" r="2.4" fill="none" stroke="#000" stroke-width="1.7"/>
<circle cx="173.6" cy="841.2" r="2.4" fill="none" stroke="#000" stroke-width="1.7"/>
<circle cx="166.1" cy="854" r="2.4" fill="none" stroke="#000" stroke-width="1.7"/>
<line x1="215.2" y1="787" x2="215.2" y2="803.5" stroke="#222" stroke-width="1.3"/>
<line x1="208.2" y1="787" x2="222.2" y2="787" stroke="#222" stroke-width="1.3"/>
<line x1="208.2" y1="803.5" x2="222.2" y2="803.5" stroke="#222" stroke-width="1.3"/>
<circle cx="215.2" cy="752.8" r="2.4" fill="none" stroke="#000" stroke-width="1.7"/>
<circle cx="215.2" cy="781.1" r="2.4" fill="none" stroke="#000" stroke-width="1.7"/>
<circle cx="211.5" cy="788.3" r="2.4" fill="none" stroke="#000" stroke-width="1.7"/>
<circle cx="219.1" cy="786.1" r="2.4" fill="none" stroke="#000" stroke-width="1.7"/>
<circle cx="215.2" cy="805" r="2.4" fill="none" stroke="#000" stroke-width="1.7"/>
<circle cx="215.2" cy="812" r="2.4" fill="none" stroke="#000" stroke-width="1.7"/>
<circle cx="211.5" cy="819.1" r="2.4" fill="none" stroke="#000" stroke-width="1.7"/>
<circle cx="219.1" cy="816.5" r="2.4" fill="none" stroke="#000" stroke-width="1.7"/>
<line x1="257.2" y1="777.2" x2="257.2" y2="814.8" stroke="#222" stroke-width="1.3"/>
<line x1="250.2" y1="777.2" x2="264.2" y2="777.2" stroke="#222" stroke-width="1.3"/>
<line x1="250.2" y1="814.8" x2="264.2" y2="814.8" stroke="#222" stroke-width="1.3"/>
<circle cx="257.2" cy="709.8" r="2.4" fill="none" stroke="#000" stroke-width="1.7"/>
<circle cx="257.2" cy="726.7" r="2.4" fill="none" stroke="#000" stroke-width="1.7"/>
<circle cx="257.2" cy="776.7" r="2.4" fill="none" stroke="#000" stroke-width="1.7"/>
<circle cx="257.2" cy="814.8" r="2.4" fill="none" stroke="#000" stroke-width="1.7"/>
<circle cx="253.5" cy="828.9" r="2.4" fill="none" stroke="#000" stroke-width="1.7"/>
<circle cx="260.9" cy="826.1" r="2.4" fill="none" stroke="#000" stroke-width="1.7"/>
<circle cx="257.2" cy="839.3" r="2.4" fill="none" stroke="#000" stroke-width="1.7"/>
<circle cx="257.2" cy="843" r="2.4" fill="none" stroke="#000" stroke-width="1.7"/>
<line x1="165.7" y1="763.85" x2="165.7" y2="772.35" stroke="#000" stroke-width="1.3"/>
<line x1="162.02" y1="765.98" x2="169.38" y2="770.23" stroke="#000" stroke-width="1.3"/>
<line x1="162.02" y1="770.23" x2="169.38" y2="765.98" stroke="#000" stroke-width="1.3"/>
<text x="114.8" y="886.9" font-size="14" font-weight="bold" textLength="17.5" lengthAdjust="spacingAndGlyphs" fill="#000" stroke="#000" stroke-width="0.35">NS</text>
<text x="156.6" y="884.8" font-size="14" font-weight="bold" textLength="25.4" lengthAdjust="spacingAndGlyphs" fill="#000" stroke="#000" stroke-width="0.35">CUS</text>
<line x1="119.2" y1="890.7" x2="177" y2="890.7" stroke="#777" stroke-width="1.3"/>
<text x="111" y="912" font-size="14.5" font-weight="bold" textLength="37.4" lengthAdjust="spacingAndGlyphs" fill="#000" stroke="#000" stroke-width="0.35">C3ar1</text>
<text x="149.3" y="906.7" font-size="9" font-weight="bold" textLength="29.7" lengthAdjust="spacingAndGlyphs" fill="#000" stroke="#000" stroke-width="0.35">MGWT</text>
<text x="209.7" y="884" font-size="14" font-weight="bold" textLength="17.5" lengthAdjust="spacingAndGlyphs" fill="#000" stroke="#000" stroke-width="0.35">NS</text>
<text x="251.5" y="885.7" font-size="14" font-weight="bold" textLength="25.4" lengthAdjust="spacingAndGlyphs" fill="#000" stroke="#000" stroke-width="0.35">CUS</text>
<line x1="211.2" y1="890.1" x2="267.5" y2="890.1" stroke="#777" stroke-width="1.3"/>
<text x="208.2" y="908.8" font-size="14.5" font-weight="bold" textLength="36.5" lengthAdjust="spacingAndGlyphs" fill="#000" stroke="#000" stroke-width="0.35">C3ar1</text>
<text x="245.6" y="904.7" font-size="9" font-weight="bold" textLength="28.3" lengthAdjust="spacingAndGlyphs" fill="#000" stroke="#000" stroke-width="0.35">MGKO</text>
<text x="383.5" y="679.8" font-size="23.6" font-weight="bold" textLength="28.4" lengthAdjust="spacingAndGlyphs" fill="#000" stroke="#000" stroke-width="0.35">(E)</text>
<line x1="469" y1="666" x2="469" y2="872.5" stroke="#000" stroke-width="2.2"/>
<line x1="468" y1="871.3" x2="674.6" y2="871.3" stroke="#000" stroke-width="2.2"/>
<line x1="459.3" y1="871.3" x2="469" y2="871.3" stroke="#000" stroke-width="2.2"/>
<text x="457.9" y="876.9" font-size="15.6" font-weight="bold" text-anchor="end" fill="#000" stroke="#000" stroke-width="0.35">0</text>
<line x1="459.3" y1="830.42" x2="469" y2="830.42" stroke="#000" stroke-width="2.2"/>
<text x="457.9" y="836.0" font-size="15.6" font-weight="bold" text-anchor="end" fill="#000" stroke="#000" stroke-width="0.35">20</text>
<line x1="459.3" y1="789.54" x2="469" y2="789.54" stroke="#000" stroke-width="2.2"/>
<text x="457.9" y="795.1" font-size="15.6" font-weight="bold" text-anchor="end" fill="#000" stroke="#000" stroke-width="0.35">40</text>
<line x1="459.3" y1="748.66" x2="469" y2="748.66" stroke="#000" stroke-width="2.2"/>
<text x="457.9" y="754.3" font-size="15.6" font-weight="bold" text-anchor="end" fill="#000" stroke="#000" stroke-width="0.35">60</text>
<line x1="459.3" y1="707.78" x2="469" y2="707.78" stroke="#000" stroke-width="2.2"/>
<text x="457.9" y="713.4" font-size="15.6" font-weight="bold" text-anchor="end" fill="#000" stroke="#000" stroke-width="0.35">80</text>
<line x1="459.3" y1="666.9" x2="469" y2="666.9" stroke="#000" stroke-width="2.2"/>
<text x="457.9" y="672.5" font-size="15.6" font-weight="bold" text-anchor="end" fill="#000" stroke="#000" stroke-width="0.35">100</text>
<text transform="translate(434.7,840) rotate(-90)" font-size="17" font-weight="bold" textLength="104" lengthAdjust="spacingAndGlyphs" fill="#000" stroke="#000" stroke-width="0.35">% Alternation</text>
<rect x="484.2" y="751.5" width="29.6" height="119.8" fill="#b4f5dc" stroke="#222" stroke-width="1.3"/>
<rect x="529.8" y="762.2" width="29.5" height="109.1" fill="#ff9e9e" stroke="#222" stroke-width="1.3"/>
<rect x="582.7" y="757.3" width="29.7" height="114.0" fill="#8fbff7" stroke="#222" stroke-width="1.3"/>
<rect x="628.3" y="757.3" width="29.7" height="114.0" fill="#df89f5" stroke="#222" stroke-width="1.3"/>
<line x1="498.7" y1="745.6" x2="498.7" y2="756" stroke="#222" stroke-width="1.3"/>
<line x1="491.2" y1="745.6" x2="506.2" y2="745.6" stroke="#222" stroke-width="1.3"/>
<line x1="491.2" y1="756" x2="506.2" y2="756" stroke="#222" stroke-width="1.3"/>
<circle cx="494.7" cy="728.4" r="2.5" fill="none" stroke="#000" stroke-width="1.8"/>
<circle cx="502.8" cy="732.2" r="2.5" fill="none" stroke="#000" stroke-width="1.8"/>
<circle cx="494.7" cy="735.4" r="2.5" fill="none" stroke="#000" stroke-width="1.8"/>
<circle cx="498.8" cy="741.1" r="2.5" fill="none" stroke="#000" stroke-width="1.8"/>
<circle cx="498.8" cy="747.4" r="2.5" fill="none" stroke="#000" stroke-width="1.8"/>
<circle cx="494.7" cy="755" r="2.5" fill="none" stroke="#000" stroke-width="1.8"/>
<circle cx="502.8" cy="755.9" r="2.5" fill="none" stroke="#000" stroke-width="1.8"/>
<circle cx="498.8" cy="765" r="2.5" fill="none" stroke="#000" stroke-width="1.8"/>
<circle cx="494.7" cy="775.8" r="2.5" fill="none" stroke="#000" stroke-width="1.8"/>
<circle cx="502.8" cy="774.3" r="2.5" fill="none" stroke="#000" stroke-width="1.8"/>
<line x1="544.2" y1="751.4" x2="544.2" y2="772.6" stroke="#222" stroke-width="1.3"/>
<line x1="536.7" y1="751.4" x2="551.7" y2="751.4" stroke="#222" stroke-width="1.3"/>
<line x1="536.7" y1="772.6" x2="551.7" y2="772.6" stroke="#222" stroke-width="1.3"/>
<circle cx="544" cy="714.7" r="2.5" fill="none" stroke="#000" stroke-width="1.8"/>
<circle cx="544" cy="722.1" r="2.5" fill="none" stroke="#000" stroke-width="1.8"/>
<circle cx="544" cy="729.3" r="2.5" fill="none" stroke="#000" stroke-width="1.8"/>
<circle cx="544" cy="763.5" r="2.5" fill="none" stroke="#000" stroke-width="1.8"/>
<circle cx="544" cy="773" r="2.5" fill="none" stroke="#000" stroke-width="1.8"/>
<circle cx="539.8" cy="781.9" r="2.5" fill="none" stroke="#000" stroke-width="1.8"/>
<circle cx="548.4" cy="779.1" r="2.5" fill="none" stroke="#000" stroke-width="1.8"/>
<circle cx="544" cy="788.2" r="2.5" fill="none" stroke="#000" stroke-width="1.8"/>
<circle cx="544.3" cy="804.7" r="2.5" fill="none" stroke="#000" stroke-width="1.8"/>
<line x1="597.4" y1="749.3" x2="597.4" y2="764" stroke="#222" stroke-width="1.3"/>
<line x1="589.9" y1="749.3" x2="604.9" y2="749.3" stroke="#222" stroke-width="1.3"/>
<line x1="589.9" y1="764" x2="604.9" y2="764" stroke="#222" stroke-width="1.3"/>
<circle cx="597.4" cy="723.9" r="2.5" fill="none" stroke="#000" stroke-width="1.8"/>
<circle cx="589" cy="742.4" r="2.5" fill="none" stroke="#000" stroke-width="1.8"/>
<circle cx="597.4" cy="742.4" r="2.5" fill="none" stroke="#000" stroke-width="1.8"/>
<circle cx="605.6" cy="744" r="2.5" fill="none" stroke="#000" stroke-width="1.8"/>
<circle cx="597.4" cy="746.9" r="2.5" fill="none" stroke="#000" stroke-width="1.8"/>
<circle cx="597.4" cy="763.6" r="2.5" fill="none" stroke="#000" stroke-width="1.8"/>
<circle cx="597.4" cy="769.4" r="2.5" fill="none" stroke="#000" stroke-width="1.8"/>
<circle cx="597.4" cy="780.8" r="2.5" fill="none" stroke="#000" stroke-width="1.8"/>
<circle cx="597.4" cy="795.2" r="2.5" fill="none" stroke="#000" stroke-width="1.8"/>
<line x1="642.8" y1="752.4" x2="642.8" y2="760.6" stroke="#222" stroke-width="1.3"/>
<line x1="635.3" y1="752.4" x2="650.3" y2="752.4" stroke="#222" stroke-width="1.3"/>
<line x1="635.3" y1="760.6" x2="650.3" y2="760.6" stroke="#222" stroke-width="1.3"/>
<circle cx="642.8" cy="735.8" r="2.5" fill="none" stroke="#000" stroke-width="1.8"/>
<circle cx="634.5" cy="747.9" r="2.5" fill="none" stroke="#000" stroke-width="1.8"/>
<circle cx="642.8" cy="753.2" r="2.5" fill="none" stroke="#000" stroke-width="1.8"/>
<circle cx="651.2" cy="751.8" r="2.5" fill="none" stroke="#000" stroke-width="1.8"/>
<circle cx="634.5" cy="763" r="2.5" fill="none" stroke="#000" stroke-width="1.8"/>
<circle cx="651.2" cy="763" r="2.5" fill="none" stroke="#000" stroke-width="1.8"/>
<circle cx="642.8" cy="765.5" r="2.5" fill="none" stroke="#000" stroke-width="1.8"/>
<circle cx="642.8" cy="772" r="2.5" fill="none" stroke="#000" stroke-width="1.8"/>
<text x="486.1" y="892.7" font-size="14" font-weight="bold" textLength="17.5" lengthAdjust="spacingAndGlyphs" fill="#000" stroke="#000" stroke-width="0.35">NS</text>
<text x="524.9" y="892.7" font-size="14" font-weight="bold" textLength="25.4" lengthAdjust="spacingAndGlyphs" fill="#000" stroke="#000" stroke-width="0.35">CUS</text>
<line x1="489" y1="898" x2="546.5" y2="898" stroke="#777" stroke-width="1.3"/>
<text x="484.6" y="919.5" font-size="14.5" font-weight="bold" textLength="36.5" lengthAdjust="spacingAndGlyphs" fill="#000" stroke="#000" stroke-width="0.35">C3ar1</text>
<text x="522" y="914.5" font-size="9" font-weight="bold" textLength="30.3" lengthAdjust="spacingAndGlyphs" fill="#000" stroke="#000" stroke-width="0.35">MGWT</text>
<text x="579.5" y="892.7" font-size="14" font-weight="bold" textLength="17" lengthAdjust="spacingAndGlyphs" fill="#000" stroke="#000" stroke-width="0.35">NS</text>
<text x="620.4" y="892.7" font-size="14" font-weight="bold" textLength="26.2" lengthAdjust="spacingAndGlyphs" fill="#000" stroke="#000" stroke-width="0.35">CUS</text>
<line x1="585.3" y1="898" x2="641.7" y2="898" stroke="#777" stroke-width="1.3"/>
<text x="582.4" y="919.5" font-size="14.5" font-weight="bold" textLength="37.1" lengthAdjust="spacingAndGlyphs" fill="#000" stroke="#000" stroke-width="0.35">C3ar1</text>
<text x="620.4" y="914.5" font-size="9" font-weight="bold" textLength="28.3" lengthAdjust="spacingAndGlyphs" fill="#000" stroke="#000" stroke-width="0.35">MGKO</text>
</svg>
</body></html>
